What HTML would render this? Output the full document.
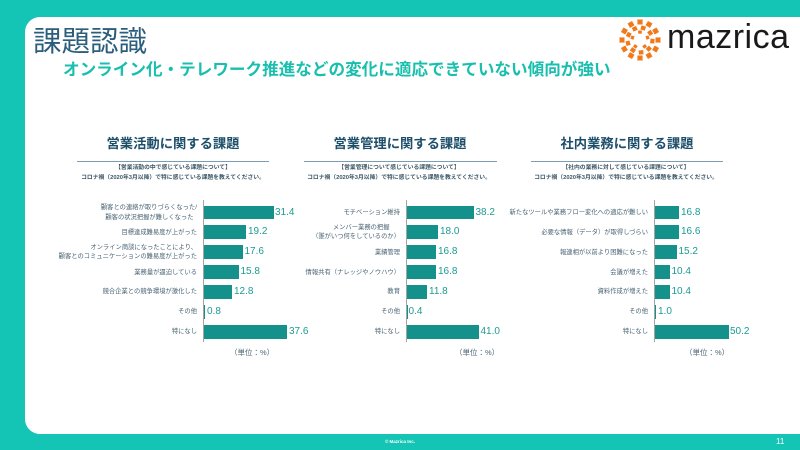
<!DOCTYPE html>
<html><head><meta charset="utf-8"><style>
*{margin:0;padding:0;box-sizing:border-box}
body{width:800px;height:450px;overflow:hidden;background:#14c4b4;font-family:"Liberation Sans","Noto Sans CJK JP",sans-serif;position:relative}
.abs{position:absolute}
.panel{left:25px;top:17px;width:775px;height:417px;background:#fff;border-radius:15px 0 0 15px}
.t{white-space:nowrap}
.ctitle{font-weight:bold;font-size:13.3px;color:#1d4f6a;width:240px;text-align:center;top:133px}
.uline{height:1.5px;background:#7b9cb2;top:160.5px}
.sub{font-size:5.8px;font-weight:bold;color:#3b5666;width:240px;text-align:center;line-height:9.5px;top:164px}
.lab{font-size:6.3px;color:#4a6474;text-align:right;line-height:9.6px;width:240px}
.bar{background:#14918a;height:13.6px}
.val{font-size:10px;color:#1a9c93;line-height:13.6px}
.axis{width:1px;background:#a5a5a5;top:200px;height:142px}
.unit{font-size:7.5px;color:#4a6474;top:347px}
</style></head><body>
<div class="abs panel"></div>
<div class="abs t" style="left:33px;top:25px;font-size:28.5px;color:#2b5d7c;line-height:34px">課題認識</div>
<div class="abs t" style="left:63px;top:60px;font-size:16.6px;font-weight:bold;color:#19bfae;line-height:20px">オンライン化・テレワーク推進などの変化に適応できていない傾向が強い</div>

<svg class="abs" style="left:618px;top:18px" width="44" height="44" viewBox="0 0 44 44">
<g fill="#f07a1a">
<g transform="translate(22,22)">
<rect x="-2.6" y="-20.5" width="5.2" height="5" transform="rotate(0)"/>
<rect x="-2.6" y="-20.5" width="5.2" height="5" transform="rotate(30)"/>
<rect x="-2.6" y="-20.5" width="5.2" height="5" transform="rotate(60)"/>
<rect x="-2.6" y="-20.5" width="5.2" height="5" transform="rotate(90)"/>
<rect x="-2.6" y="-20.5" width="5.2" height="5" transform="rotate(120)"/>
<rect x="-2.6" y="-20.5" width="5.2" height="5" transform="rotate(150)"/>
<rect x="-2.6" y="-20.5" width="5.2" height="5" transform="rotate(180)"/>
<rect x="-2.6" y="-20.5" width="5.2" height="5" transform="rotate(210)"/>
<rect x="-2.6" y="-20.5" width="5.2" height="5" transform="rotate(240)"/>
<rect x="-2.6" y="-20.5" width="5.2" height="5" transform="rotate(270)"/>
<rect x="-2.6" y="-20.5" width="5.2" height="5" transform="rotate(300)"/>
<rect x="-2.6" y="-20.5" width="5.2" height="5" transform="rotate(330)"/>
<rect x="-2.3" y="-14.5" width="4.6" height="4.2" transform="rotate(15)"/>
<rect x="-2.3" y="-14.5" width="4.6" height="4.2" transform="rotate(55)"/>
<rect x="-2.3" y="-14.5" width="4.6" height="4.2" transform="rotate(95)"/>
<rect x="-2.3" y="-14.5" width="4.6" height="4.2" transform="rotate(135)"/>
<rect x="-2.3" y="-14.5" width="4.6" height="4.2" transform="rotate(175)"/>
<rect x="-2.3" y="-14.5" width="4.6" height="4.2" transform="rotate(215)"/>
<rect x="-2.3" y="-14.5" width="4.6" height="4.2" transform="rotate(255)"/>
<rect x="-2.3" y="-14.5" width="4.6" height="4.2" transform="rotate(295)"/>
<rect x="-2.3" y="-14.5" width="4.6" height="4.2" transform="rotate(335)"/>
<rect x="-1.8" y="-9.5" width="3.6" height="3.2" transform="rotate(0)"/>
<rect x="-1.8" y="-9.5" width="3.6" height="3.2" transform="rotate(72)"/>
<rect x="-1.8" y="-9.5" width="3.6" height="3.2" transform="rotate(144)"/>
<rect x="-1.8" y="-9.5" width="3.6" height="3.2" transform="rotate(216)"/>
<rect x="-1.8" y="-9.5" width="3.6" height="3.2" transform="rotate(288)"/>
</g></g></svg>
<div class="abs t" style="left:667px;top:17px;font-size:34px;color:#1a1a1a;line-height:40px;letter-spacing:0.5px">mazrica</div>

<!-- Chart 1 -->
<div class="abs t ctitle" style="left:53px">営業活動に関する課題</div>
<div class="abs uline" style="left:77px;width:192px"></div>
<div class="abs t sub" style="left:53px">【営業活動の中で感じている課題について】<br>コロナ禍（2020年3月以降）で特に感じている課題を教えてください。</div>
<div class="abs axis" style="left:203px"></div>
<div class="abs t lab" style="left:-43px;top:203px">顧客との連絡が取りづらくなった/<br>顧客の状況把握が難しくなった&nbsp;&nbsp;</div>
<div class="abs t lab" style="left:-43px;top:227.5px">目標達成難易度が上がった</div>
<div class="abs t lab" style="left:-43px;top:242.7px">オンライン商談になったことにより、<br>顧客とのコミュニケーションの難易度が上がった</div>
<div class="abs t lab" style="left:-43px;top:267.5px">業務量が逼迫している</div>
<div class="abs t lab" style="left:-43px;top:287.4px">競合企業との競争環境が激化した</div>
<div class="abs t lab" style="left:-43px;top:307.3px">その他</div>
<div class="abs t lab" style="left:-43px;top:327px">特になし</div>
<div class="abs bar" style="left:203.5px;top:205.5px;width:70px"></div><div class="abs t val" style="left:275px;top:205.5px">31.4</div>
<div class="abs bar" style="left:203.5px;top:225.4px;width:42.8px"></div><div class="abs t val" style="left:248px;top:225.4px">19.2</div>
<div class="abs bar" style="left:203.5px;top:245.3px;width:39.2px"></div><div class="abs t val" style="left:244.5px;top:245.3px">17.6</div>
<div class="abs bar" style="left:203.5px;top:265.2px;width:35.2px"></div><div class="abs t val" style="left:240.5px;top:265.2px">15.8</div>
<div class="abs bar" style="left:203.5px;top:285.1px;width:28.5px"></div><div class="abs t val" style="left:234px;top:285.1px">12.8</div>
<div class="abs bar" style="left:203.5px;top:305px;width:1.8px"></div><div class="abs t val" style="left:207px;top:305px">0.8</div>
<div class="abs bar" style="left:203.5px;top:325px;width:83.8px"></div><div class="abs t val" style="left:289px;top:325px">37.6</div>
<div class="abs t unit" style="left:230px">（単位：%）</div>

<!-- Chart 2 -->
<div class="abs t ctitle" style="left:280px">営業管理に関する課題</div>
<div class="abs uline" style="left:304px;width:193px"></div>
<div class="abs t sub" style="left:279px">【営業管理について感じている課題について】<br>コロナ禍（2020年3月以降）で特に感じている課題を教えてください。</div>
<div class="abs axis" style="left:406px"></div>
<div class="abs t lab" style="left:160px;top:207.5px">モチベーション維持</div>
<div class="abs t lab" style="left:160px;top:222.8px">メンバー業務の把握&nbsp;&nbsp;&nbsp;&nbsp;&nbsp;&nbsp;<br>（誰がいつ何をしているのか）</div>
<div class="abs t lab" style="left:160px;top:247.5px">業績管理</div>
<div class="abs t lab" style="left:160px;top:267.5px">情報共有（ナレッジやノウハウ）</div>
<div class="abs t lab" style="left:160px;top:287.4px">教育</div>
<div class="abs t lab" style="left:160px;top:307.3px">その他</div>
<div class="abs t lab" style="left:160px;top:327px">特になし</div>
<div class="abs bar" style="left:406.5px;top:205.5px;width:67.2px"></div><div class="abs t val" style="left:475.5px;top:205.5px">38.2</div>
<div class="abs bar" style="left:406.5px;top:225.4px;width:31.7px"></div><div class="abs t val" style="left:440px;top:225.4px">18.0</div>
<div class="abs bar" style="left:406.5px;top:245.3px;width:29.6px"></div><div class="abs t val" style="left:438px;top:245.3px">16.8</div>
<div class="abs bar" style="left:406.5px;top:265.2px;width:29.6px"></div><div class="abs t val" style="left:438px;top:265.2px">16.8</div>
<div class="abs bar" style="left:406.5px;top:285.1px;width:20.8px"></div><div class="abs t val" style="left:429px;top:285.1px">11.8</div>
<div class="abs bar" style="left:406.5px;top:305px;width:0.8px"></div><div class="abs t val" style="left:408.5px;top:305px">0.4</div>
<div class="abs bar" style="left:406.5px;top:325px;width:72.2px"></div><div class="abs t val" style="left:480.5px;top:325px">41.0</div>
<div class="abs t unit" style="left:455px">（単位：%）</div>

<!-- Chart 3 -->
<div class="abs t ctitle" style="left:507px">社内業務に関する課題</div>
<div class="abs uline" style="left:531px;width:192px"></div>
<div class="abs t sub" style="left:506px">【社内の業務に対して感じている課題について】<br>コロナ禍（2020年3月以降）で特に感じている課題を教えてください。</div>
<div class="abs axis" style="left:654px"></div>
<div class="abs t lab" style="left:408px;top:207.5px">新たなツールや業務フロー変化への適応が難しい</div>
<div class="abs t lab" style="left:408px;top:227.5px">必要な情報（データ）が取得しづらい</div>
<div class="abs t lab" style="left:408px;top:247.5px">報連相が以前より困難になった</div>
<div class="abs t lab" style="left:408px;top:267.5px">会議が増えた</div>
<div class="abs t lab" style="left:408px;top:287.4px">資料作成が増えた</div>
<div class="abs t lab" style="left:408px;top:307.3px">その他</div>
<div class="abs t lab" style="left:408px;top:327px">特になし</div>
<div class="abs bar" style="left:654.5px;top:205.5px;width:24.8px"></div><div class="abs t val" style="left:681px;top:205.5px">16.8</div>
<div class="abs bar" style="left:654.5px;top:225.4px;width:24.5px"></div><div class="abs t val" style="left:681px;top:225.4px">16.6</div>
<div class="abs bar" style="left:654.5px;top:245.3px;width:22.4px"></div><div class="abs t val" style="left:678.5px;top:245.3px">15.2</div>
<div class="abs bar" style="left:654.5px;top:265.2px;width:15.4px"></div><div class="abs t val" style="left:671.5px;top:265.2px">10.4</div>
<div class="abs bar" style="left:654.5px;top:285.1px;width:15.4px"></div><div class="abs t val" style="left:671.5px;top:285.1px">10.4</div>
<div class="abs bar" style="left:654.5px;top:305px;width:1.6px"></div><div class="abs t val" style="left:658px;top:305px">1.0</div>
<div class="abs bar" style="left:654.5px;top:325px;width:74px"></div><div class="abs t val" style="left:730px;top:325px">50.2</div>
<div class="abs t unit" style="left:685px">（単位：%）</div>

<div class="abs t" style="left:380px;top:439px;width:40px;text-align:center;font-size:4.5px;color:#fff;font-weight:bold">© Mazrica Inc.</div>
<div class="abs t" style="left:776px;top:437px;font-size:8px;color:#fff">11</div>
</body></html>
